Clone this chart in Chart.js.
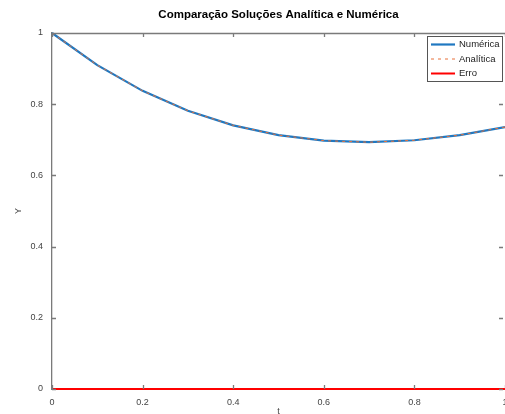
<!DOCTYPE html>
<html>
<head>
<meta charset="utf-8">
<script src="https://cdn.jsdelivr.net/npm/chart.js@4/dist/chart.umd.min.js"></script>
<style>
  html, body { margin: 0; padding: 0; background: #fff; }
  #wrap { width: 505px; height: 414px; }
</style>
</head>
<body>
<div id="wrap"><canvas id="chart" width="505" height="414"></canvas></div>
<script>
// values
const tValues = [0, 0.1, 0.2, 0.3, 0.4, 0.5, 0.6, 0.7, 0.8, 0.9, 1.0]
const numerica = [1.0, 0.9097, 0.8375, 0.7816, 0.7406, 0.7131, 0.6976, 0.6932, 0.6987, 0.7131, 0.7358]
const analitica = [1.0, 0.9097, 0.8375, 0.7816, 0.7406, 0.7131, 0.6976, 0.6932, 0.6987, 0.7131, 0.7358]
const erro = [0, 0, 0, 0, 0, 0, 0, 0, 0, 0, 0]
const xTicks = [0, 0.2, 0.4, 0.6, 0.8, 1]
const yTicks = [0, 0.2, 0.4, 0.6, 0.8, 1]

const titleText = "Comparação Soluções Analítica e Numérica"
const axisColor = "#7a7a7a"
const textColor = "#444"
const font = "Liberation Sans, Arial, sans-serif"

function pts(ys) {
    return tValues.map((t, i) => ({ x: t, y: ys[i] }))
}

// octave-ish box, inward ticks, title, axis labels and legend
const octavePlugin = {
    id: "octave",
    afterDraw(chart) {
        const ctx = chart.ctx
        const a = chart.chartArea
        const xs = chart.scales.x
        const ys = chart.scales.y
        ctx.save()
        ctx.strokeStyle = axisColor
        ctx.lineWidth = 1.3
        ctx.beginPath()
        ctx.moveTo(a.left, a.top + 0.5)
        ctx.lineTo(a.right, a.top + 0.5)
        xTicks.forEach(v => {
            const px = Math.round(xs.getPixelForValue(v)) + 0.5
            ctx.moveTo(px, a.bottom)
            ctx.lineTo(px, a.bottom - 4)
            ctx.moveTo(px, a.top)
            ctx.lineTo(px, a.top + 4)
        })
        yTicks.forEach(v => {
            const py = Math.round(ys.getPixelForValue(v)) + 0.5
            ctx.moveTo(a.left, py)
            ctx.lineTo(a.left + 4, py)
            ctx.moveTo(a.right - 2, py)
            ctx.lineTo(a.right - 6, py)
        })
        ctx.stroke()

        // title
        ctx.fillStyle = "#000"
        ctx.font = "bold 11.5px " + font
        ctx.textAlign = "center"
        ctx.textBaseline = "middle"
        ctx.fillText(titleText, (a.left + 505) / 2, 15)

        // axis labels
        ctx.fillStyle = textColor
        ctx.font = "9px " + font
        ctx.fillText("t", (a.left + 505) / 2, 412)
        ctx.save()
        ctx.translate(19, (a.top + a.bottom) / 2)
        ctx.rotate(-Math.PI / 2)
        ctx.fillText("Y", 0, 0)
        ctx.restore()

        // legend
        const lx = 427, ly = 36, lw = 75, lh = 45
        ctx.fillStyle = "#fff"
        ctx.fillRect(lx, ly, lw, lh)
        ctx.strokeStyle = "#555"
        ctx.lineWidth = 1
        ctx.strokeRect(lx + 0.5, ly + 0.5, lw, lh)
        ctx.font = "9.5px " + font
        ctx.textAlign = "left"
        const legendOrder = ["Numérica", "Analítica", "Erro"]
        legendOrder.forEach((name, i) => {
            const ds = chart.data.datasets.find(d => d.label == name)
            const y = ly + 8.5 + i * 14.5
            ctx.strokeStyle = ds.borderColor
            ctx.lineWidth = ds.borderWidth
            ctx.setLineDash(ds.borderDash || [])
            ctx.beginPath()
            ctx.moveTo(lx + 4, y)
            ctx.lineTo(lx + 28, y)
            ctx.stroke()
            ctx.setLineDash([])
            ctx.fillStyle = "#222"
            ctx.fillText(ds.label, lx + 32, y)
        })
        ctx.restore()
    }
}

new Chart(document.getElementById("chart"), {
    type: "line",
    data: {
        datasets: [{
            label: "Numérica",
            data: pts(numerica),
            borderColor: "#1f78c1",
            borderWidth: 2.2,
            pointRadius: 0,
            tension: 0,
            order: 3
        }, {
            label: "Analítica",
            data: pts(analitica),
            borderColor: "#e8703a",
            borderWidth: 1,
            borderDash: [3, 4],
            pointRadius: 0,
            tension: 0,
            order: 2
        }, {
            label: "Erro",
            data: pts(erro),
            borderColor: "#FF0000",
            borderWidth: 2,
            pointRadius: 0,
            tension: 0,
            order: 1
        }]
    },
    options: {
        responsive: false,
        animation: false,
        clip: false,
        layout: { padding: { top: 33, right: 0, left: 0, bottom: 0 } },
        scales: {
            x: {
                type: "linear",
                min: 0,
                max: 1,
                afterFit: s => { s.height = 25; s.paddingRight = 0; s.paddingLeft = 0 },
                afterBuildTicks: s => { s.ticks = xTicks.map(v => ({ value: v })) },
                grid: { display: false, drawTicks: false },
                border: { color: axisColor, width: 1.3 },
                ticks: {
                    padding: 8,
                    color: textColor,
                    font: { size: 9, family: font },
                    maxRotation: 0,
                    callback: v => String(v)
                }
            },
            y: {
                min: 0,
                max: 1,
                afterFit: s => { s.width = 52; s.paddingTop = 0; s.paddingBottom = 0 },
                afterBuildTicks: s => { s.ticks = yTicks.map(v => ({ value: v })) },
                grid: { display: false, drawTicks: false },
                border: { color: axisColor, width: 1.3 },
                ticks: {
                    padding: 9,
                    color: textColor,
                    font: { size: 9, family: font },
                    callback: v => String(v)
                }
            }
        },
        plugins: {
            legend: { display: false },
            title: { display: false },
            tooltip: { enabled: false }
        }
    },
    plugins: [octavePlugin]
})
</script>
</body>
</html>
